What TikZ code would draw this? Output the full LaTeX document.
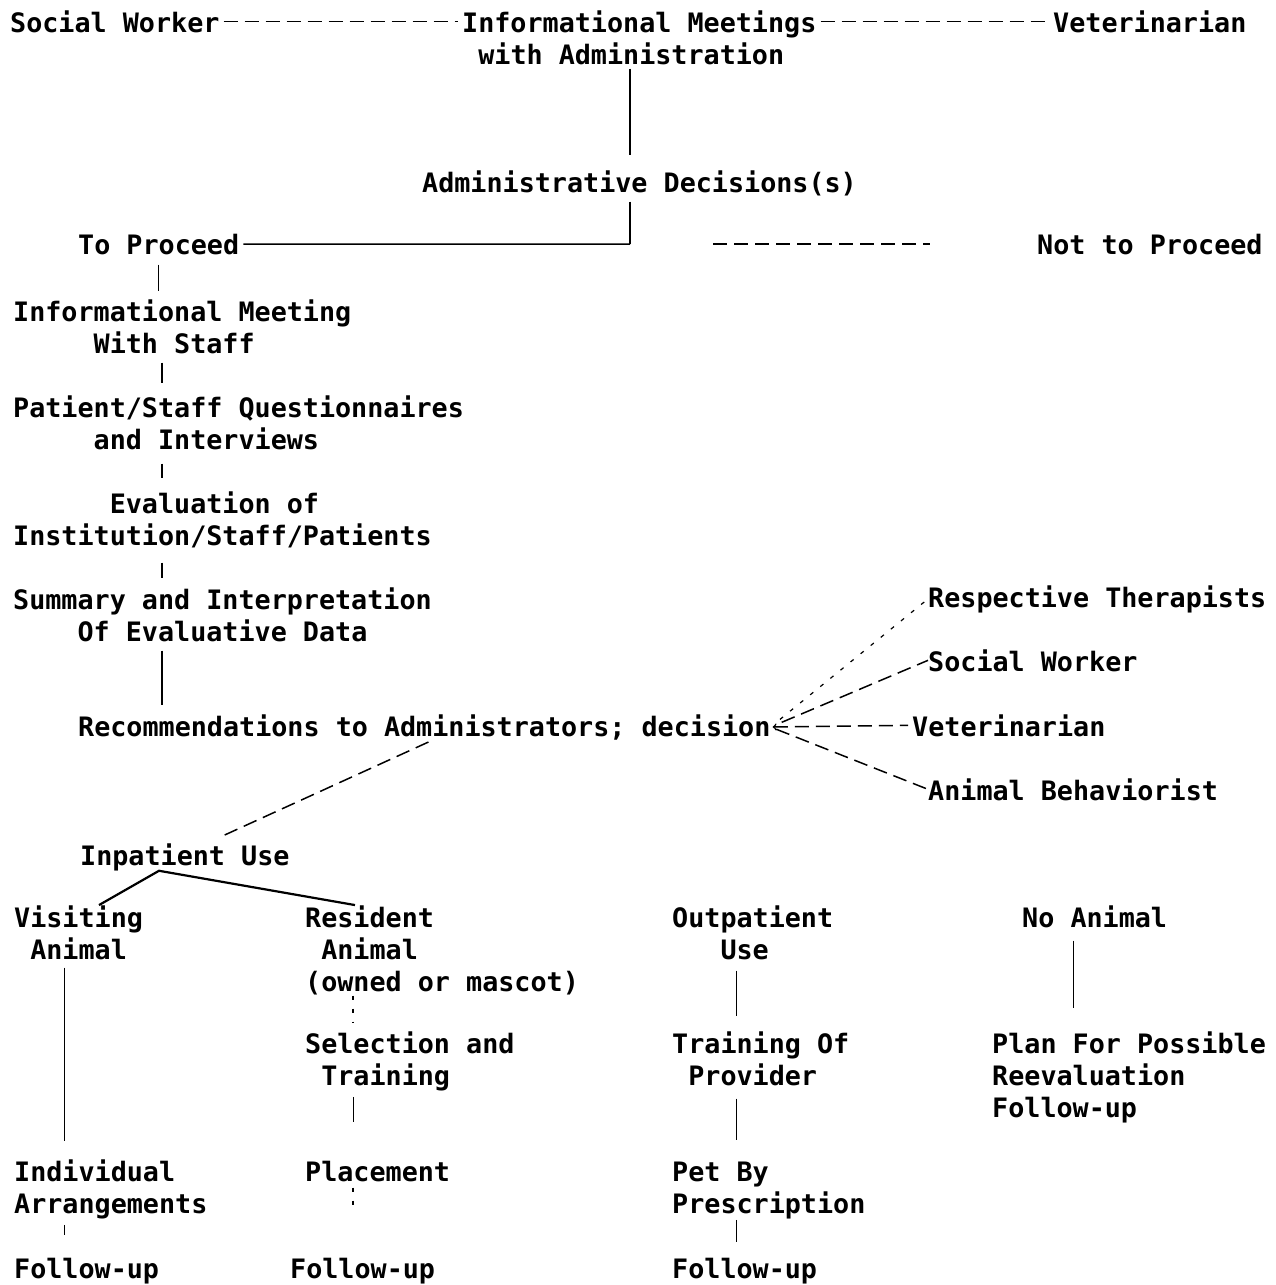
\documentclass[tikz,border=0pt]{standalone}
\usepackage{fontspec}
\newfontfamily\typewr{DejaVu Sans Mono}
\usepackage{tikz}
\usetikzlibrary{arrows}
\newlength\cw
\setlength\cw{16.1pt} % one typewriter cell
\newcommand\ind[1]{\hspace*{#1\cw}}
\frenchspacing
\tikzset{
>=to, % open arrow head
every node/.style={inner sep=0pt, anchor=base west, align=left,
  font=\typewr\bfseries\fontsize{26.74pt}{32pt}\selectfont}, % typed text, base = last line
main link/.style={line width=1.5pt}, % solid connectors
heavy link/.style={line width=2.2pt}, % inpatient branch
faint link/.style={line width=0.9pt}, % thin connectors
dash link/.style={line width=1.5pt, dash pattern=on 14pt off 7pt}, % dashed connectors
dot link/.style={line width=1.2pt, dash pattern=on 4pt off 9pt}, % sparse dots
}

\begin{document}
\begin{tikzpicture}[x=1pt, y=-1pt]
                \useasboundingbox (0,0) rectangle (1276,1285);
                % top of the chart
                \node (sw1) at (10,32) {Social Worker};
                \node (imad) at (462,64) {Informational Meetings\\\ind1with Administration};
                \node (vet1) at (1053,32) {Veterinarian};
                \node (adm) at (422,192) {Administrative Decisions(s)};
                \node (tp) at (78,254) {To Proceed};
                \node (ntp) at (1037,254) {Not to Proceed};
                % left column
                \node (ims) at (13,353) {Informational Meeting\\\ind5With Staff};
                \node (pq) at (13,449) {Patient/Staff Questionnaires\\\ind5and Interviews};
                \node (ev) at (13,545) {\ind6Evaluation of\\Institution/Staff/Patients};
                \node (sum) at (13,641) {Summary and Interpretation\\\ind4Of Evaluative Data};
                \node (rec) at (78,736) {Recommendations to Administrators; decision};
                % consultants
                \node (rt) at (928,607) {Respective Therapists};
                \node (sw2) at (928,671) {Social Worker};
                \node (vet2) at (912,736) {Veterinarian};
                \node (ab) at (928,800) {Animal Behaviorist};
                % outcomes
                \node (inp) at (80,865) {Inpatient Use};
                \node (vis) at (14,959) {Visiting\\\ind1Animal};
                \node (res) at (305,991) {Resident\\\ind1Animal\\(owned or mascot)};
                \node (out) at (672,959) {Outpatient\\\ind3Use};
                \node (noa) at (1022,927) {No Animal};
                \node (sel) at (305,1085) {Selection and\\\ind1Training};
                \node (trn) at (672,1085) {Training Of\\\ind1Provider};
                \node (plan) at (992,1117) {Plan For Possible\\Reevaluation\\Follow-up};
                \node (ind) at (14,1213) {Individual\\Arrangements};
                \node (plc) at (305,1181) {Placement};
                \node (pet) at (672,1213) {Pet By\\Prescription};
                \node (fu1) at (14,1278) {Follow-up};
                \node (fu2) at (290,1278) {Follow-up};
                \node (fu3) at (672,1278) {Follow-up};
                % columns of the connectors
                \coordinate (jct) at (630,244);
                \coordinate (cl) at (162,0);
                \coordinate (cv) at (64,0);
                \coordinate (cr) at (353,0);
                \coordinate (co) at (736,0);
                \coordinate (cn) at (1073,0);
                \draw[dash link, shorten <=4pt, shorten >=4pt] (sw1.east) -- (sw1.east -| imad.west);
                \draw[dash link, shorten <=4pt, shorten >=4pt] (imad.east |- vet1.west) -- (vet1.west);
                \draw[main link, shorten <=4pt, shorten >=15pt] (imad.south -| jct) -- (adm.north -| jct);
                \draw[main link, shorten <=6pt] (adm.south -| jct) -- (jct);
                \draw[main link, shorten <=4pt] (tp.east) -- (jct);
                \draw[dash link, shorten <=83pt, shorten >=107pt] (jct) -- (jct -| ntp.west);
                \draw[main link, shorten <=10pt, shorten >=8pt] (tp.south) -- (tp.south |- ims.north);
                \draw[main link, shorten <=9pt, shorten >=12pt] (ims.south -| cl) -- (pq.north -| cl);
                \draw[main link, shorten <=14pt, shorten >=13pt] (pq.south -| cl) -- (ev.north -| cl);
                \draw[main link, shorten <=15pt, shorten >=9pt] (ev.south -| cl) -- (sum.north -| cl);
                \draw[main link, shorten <=9pt, shorten >=9pt] (sum.south -| cl) -- (rec.north -| cl);
                % advice to the administrators
                \draw[dash link, <-, shorten <=2pt, shorten >=4pt] (rec.east) -- (vet2.west);
                \draw[dot link, shorten <=12pt] (rec.east) -- (rt.west);
                \draw[dash link, shorten <=12pt] (rec.east) -- (sw2.west);
                \draw[dash link, shorten <=6pt] (rec.east) -- (ab.west);
                \draw[dash link, shorten <=5pt, shorten >=17pt] ([xshift=355pt]rec.south west) -- ([xshift=127pt]inp.north west);
                % inpatient branch
                \draw[heavy link] ([xshift=85pt]vis.north west) -- ([xshift=79pt]inp.south west) -- ([xshift=50pt]res.north west);
                \draw[faint link, shorten <=8pt, shorten >=18pt] (vis.south -| cv) -- (ind.north -| cv);
                \draw[faint link, shorten <=6pt, shorten >=23pt] (ind.south -| cv) -- (fu1.north -| cv);
                \draw[dot link, shorten <=1pt, shorten >=8pt] (res.south -| cr) -- (sel.north -| cr);
                \draw[faint link, shorten <=6pt, shorten >=38pt] (sel.south -| cr) -- (plc.north -| cr);
                \draw[dot link, shorten <=6pt, shorten >=50pt] (plc.south -| cr) -- (fu2.north -| cr);
                % outpatient and no animal
                \draw[faint link, shorten <=11pt, shorten >=15pt] (out.south -| co) -- (trn.north -| co);
                \draw[faint link, shorten <=13pt, shorten >=21pt] (trn.south -| co) -- (pet.north -| co);
                \draw[faint link, shorten <=1pt, shorten >=16pt] (pet.south -| co) -- (fu3.north -| co);
                \draw[faint link, shorten <=13pt, shorten >=23pt] (noa.south -| cn) -- (plan.north -| cn);
\end{tikzpicture}
\end{document}
